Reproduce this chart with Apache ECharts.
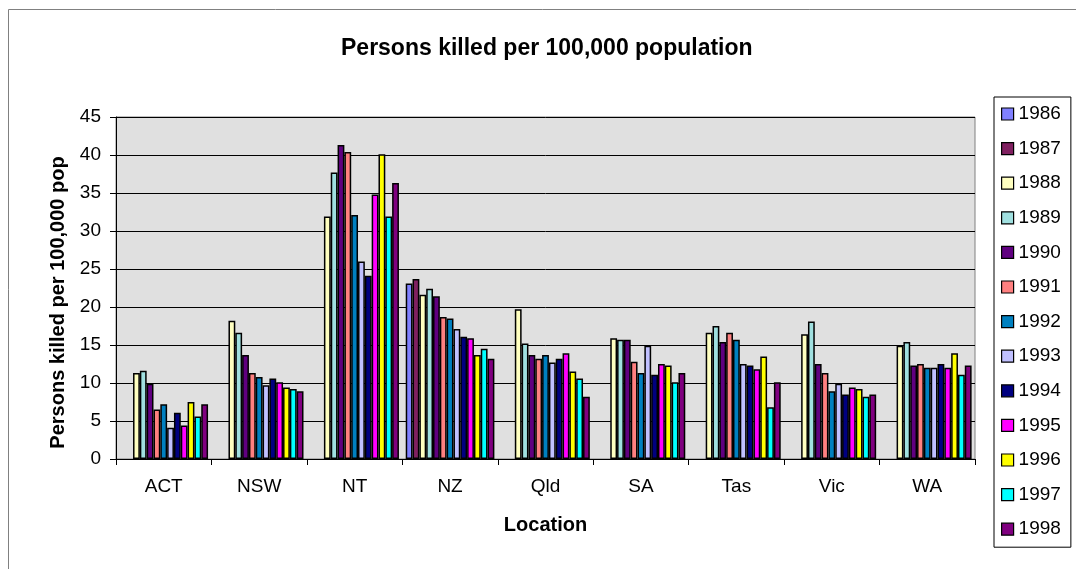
<!DOCTYPE html>
<html>
<head>
<meta charset="utf-8">
<script src="https://cdn.jsdelivr.net/npm/echarts@6/dist/echarts.min.js"></script>
<style>
html,body{margin:0;padding:0;background:#fff;}
#chart{width:1076px;height:569px;}
</style>
</head>
<body>
<div id="chart"></div>
<script>
const categories = ['ACT', 'NSW', 'NT', 'NZ', 'Qld', 'SA', 'Tas', 'Vic', 'WA'];
const years = ['1986','1987','1988','1989','1990','1991','1992','1993','1994','1995','1996','1997','1998'];
// values per year, in category order
const y1986 = [null, null, null, 23.1, null, null, null, null, null];
const y1987 = [null, null, null, 23.7, null, null, null, null, null];
const y1988 = [11.3, 18.2, 31.9, 21.6, 19.7, 15.9, 16.6, 16.4, 14.9];
const y1989 = [11.6, 16.6, 37.7, 22.4, 15.2, 15.7, 17.5, 18.1, 15.4];
const y1990 = [9.9, 13.7, 41.3, 21.4, 13.7, 15.7, 15.4, 12.5, 12.3];
const y1991 = [6.5, 11.3, 40.4, 18.7, 13.2, 12.8, 16.6, 11.3, 12.5];
const y1992 = [7.2, 10.8, 32.1, 18.5, 13.7, 11.3, 15.7, 8.9, 12.0];
const y1993 = [4.1, 9.7, 26.0, 17.1, 12.7, 14.9, 12.5, 9.9, 12.0];
const y1994 = [6.1, 10.6, 24.1, 16.1, 13.2, 11.1, 12.3, 8.5, 12.5];
const y1995 = [4.4, 10.1, 34.8, 15.9, 13.9, 12.5, 11.8, 9.4, 12.0];
const y1996 = [7.5, 9.4, 40.1, 13.7, 11.5, 12.3, 13.5, 9.2, 13.9];
const y1997 = [5.6, 9.2, 31.9, 14.5, 10.6, 10.1, 6.8, 8.2, 11.1];
const y1998 = [7.2, 8.9, 36.3, 13.2, 8.2, 11.3, 10.1, 8.5, 12.3];
const yTicks = [0, 5, 10, 15, 20, 25, 30, 35, 40, 45];

const seriesValues = [y1986, y1987, y1988, y1989, y1990, y1991, y1992, y1993, y1994, y1995, y1996, y1997, y1998];
const colors = ['#8080FF', '#802060', '#FFFFC0', '#A0E0E0', '#600080', '#FF8080', '#0080C0',
                '#C0C0FF', '#000080', '#FF00FF', '#FFFF00', '#00FFFF', '#800080'];

const chart = echarts.init(document.getElementById('chart'), null, {renderer: 'canvas'});
const font = 'Liberation Sans, Arial, sans-serif';

chart.setOption({
  backgroundColor: '#ffffff',
  animation: false,
  color: colors,
  title: {
    text: 'Persons killed per 100,000 population',
    left: 341,
    top: 37,
    padding: 0,
    textStyle: {fontFamily: font, fontSize: 23, fontWeight: 'bold', color: '#000'}
  },
  graphic: [{
    type: 'rect',
    shape: {x: 8.5, y: 9.5, width: 1200, height: 700},
    style: {fill: 'none', stroke: '#808080', lineWidth: 1},
    silent: true,
    z: -10
  }],
  legend: {
    orient: 'vertical',
    left: 994,
    top: 97,
    padding: [7, 10, 8, 7],
    itemGap: 14.6,
    itemWidth: 12,
    itemHeight: 12,
    icon: 'rect',
    borderColor: '#000',
    borderWidth: 1,
    backgroundColor: '#fff',
    itemStyle: {borderColor: '#000', borderWidth: 1.2},
    textStyle: {fontFamily: font, fontSize: 19, color: '#000', lineHeight: 20, padding: [0, 0, 0, 0]},
    data: years
  },
  grid: {
    left: 116,
    right: 101,
    top: 117,
    bottom: 110,
    show: true,
    backgroundColor: '#E0E0E0',
    borderColor: '#808080',
    borderWidth: 1,
    containLabel: false
  },
  xAxis: {
    type: 'category',
    data: categories,
    name: 'Location',
    nameLocation: 'middle',
    nameGap: 56,
    nameTextStyle: {fontFamily: font, fontSize: 20, fontWeight: 'bold', color: '#000'},
    axisLine: {show: true, lineStyle: {color: '#000', width: 1}},
    axisTick: {show: true, length: 6, lineStyle: {color: '#000'}},
    axisLabel: {fontFamily: font, fontSize: 19, color: '#000', margin: 18},
    splitLine: {show: false}
  },
  yAxis: {
    type: 'value',
    min: yTicks[0],
    max: yTicks[yTicks.length - 1],
    interval: 5,
    name: 'Persons killed per 100,000 pop',
    nameLocation: 'middle',
    nameGap: 43,
    nameTextStyle: {fontFamily: font, fontSize: 20, fontWeight: 'bold', color: '#000', padding: [0, 29, 0, 0]},
    axisLine: {show: true, lineStyle: {color: '#000', width: 1}},
    axisTick: {show: true, inside: false, length: 6, lineStyle: {color: '#000'}},
    axisLabel: {fontFamily: font, fontSize: 19, color: '#000', margin: 15},
    splitLine: {show: true, lineStyle: {color: '#000', width: 1}}
  },
  series: years.map((y, i) => ({
    name: y,
    type: 'bar',
    data: seriesValues[i],
    barGap: '0%',
    barCategoryGap: '7.1%',
    itemStyle: {color: colors[i], borderColor: '#000', borderWidth: 1.5},
    emphasis: {disabled: true}
  }))
});
</script>
</body>
</html>
